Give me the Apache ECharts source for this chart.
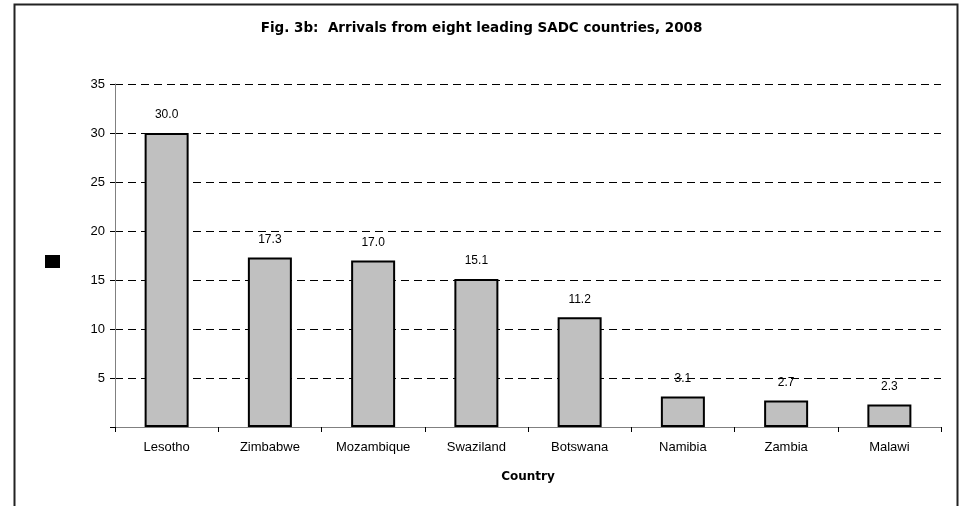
<!DOCTYPE html>
<html>
<head>
<meta charset="utf-8">
<script src="https://cdn.jsdelivr.net/npm/echarts@6/dist/echarts.min.js"></script>
<style>
  html, body { margin: 0; padding: 0; background: #fff; }
  #chart { width: 963px; height: 506px; }
</style>
</head>
<body>
<div id="chart"></div>
<script>
var countries = ["Lesotho", "Zimbabwe", "Mozambique", "Swaziland", "Botswana", "Namibia", "Zambia", "Malawi"];
var arrivals = [30.0, 17.3, 17.0, 15.1, 11.2, 3.1, 2.7, 2.3];
var yTicks = [0, 5, 10, 15, 20, 25, 30, 35];

var myChart = echarts.init(document.getElementById("chart"));
var font = "Liberation Sans, Arial, sans-serif";
var wide = "DejaVu Sans, sans-serif";
var option = {
  animation: false,
  title: {
    text: "Fig. 3b:  Arrivals from eight leading SADC countries, 2008",
    left: "center",
    top: 16,
    textStyle: { fontFamily: wide, fontSize: 13.5, fontWeight: "bold", color: "#000" }
  },
  graphic: [
    {
      type: "rect",
      shape: { x: 14.5, y: 4.5, width: 943, height: 540 },
      style: { fill: "none", stroke: "#222", lineWidth: 2 },
      silent: true
    }
  ],
  legend: {
    left: 40,
    top: 250,
    orient: "vertical",
    icon: "rect",
    itemWidth: 15,
    itemHeight: 13,
    data: [{ name: " ", itemStyle: { color: "#000", borderWidth: 0 } }],
    textStyle: { fontSize: 1 }
  },
  grid: { left: 115, right: 22, top: 84, bottom: 79 },
  xAxis: {
    type: "category",
    data: countries,
    name: "Country",
    nameLocation: "middle",
    nameGap: 44,
    nameTextStyle: { fontFamily: wide, fontSize: 12, fontWeight: "bold", color: "#000" },
    axisLine: { lineStyle: { color: "#808080", width: 1 } },
    axisTick: { show: true, length: 5, lineStyle: { color: "#000" } },
    axisLabel: { fontFamily: font, fontSize: 13, color: "#000", margin: 14 }
  },
  yAxis: {
    type: "value",
    min: 0,
    max: 35,
    interval: 5,
    axisLine: { show: true, lineStyle: { color: "#808080", width: 1 } },
    axisTick: { show: true, length: 5, lineStyle: { color: "#000" } },
    axisLabel: {
      fontFamily: font,
      fontSize: 13,
      color: "#000",
      margin: 10,
      formatter: function (v) { return v === yTicks[0] ? "" : String(v); }
    },
    splitLine: { show: true, lineStyle: { color: "#000", type: [8, 5], width: 1 } }
  },
  series: [
    {
      name: " ",
      type: "bar",
      data: arrivals,
      barWidth: 44,
      itemStyle: { color: "#C0C0C0", borderColor: "#000", borderWidth: 2 },
      label: {
        show: true,
        position: "top",
        distance: 12,
        fontFamily: font,
        fontSize: 12,
        color: "#000",
        formatter: function (p) { return p.value.toFixed(1); }
      }
    }
  ]
};
option && myChart.setOption(option);
</script>
</body>
</html>
